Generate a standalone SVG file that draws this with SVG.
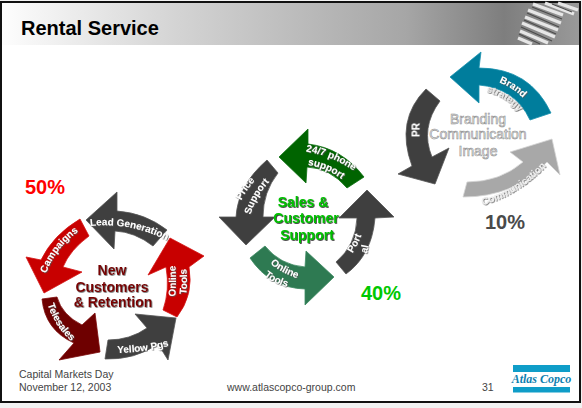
<svg xmlns="http://www.w3.org/2000/svg" width="582" height="408" viewBox="0 0 582 408">
<style>
text{font-family:"Liberation Sans",Arial,sans-serif}
.h{font-weight:bold}
.w{font-weight:bold;font-size:10px;fill:#fff;text-anchor:middle}
.c{font-weight:bold;font-size:14px;text-anchor:middle}
.b{font-size:14px;text-anchor:middle;fill:#eee;stroke:#8c8c8c;stroke-width:.55}
.f{font-size:10.5px;fill:#444}
.a path{stroke-linejoin:round;stroke-width:.8}
</style>
<defs>
<linearGradient id="hdr" x1="0" x2="1" y1="0" y2="0">
<stop offset="0" stop-color="#fdfdfd"/><stop offset=".3" stop-color="#d4d4d4"/><stop offset=".7" stop-color="#a6a6a6"/><stop offset=".87" stop-color="#7e7e7e"/><stop offset="1" stop-color="#999"/>
</linearGradient>
<filter id="sd" x="-20%" y="-20%" width="140%" height="140%"><feDropShadow dx=".7" dy=".7" stdDeviation=".2" flood-color="#555"/></filter>
<filter id="sk" x="-20%" y="-20%" width="140%" height="140%"><feDropShadow dx=".8" dy=".8" stdDeviation=".2" flood-color="#222"/></filter>
<path id="p1" d="M91,226 Q130,222 166,240"/>
<path id="p2" d="M46,274 Q55,248 79,231"/>
<path id="p3" d="M47,302 Q53,325 73,343"/>
<path id="p4" d="M114,353 Q145,353 172,345"/>
<path id="p5a" d="M175,299 Q177,282 175,263"/>
<path id="p5b" d="M186,297 Q188,282 186,266"/>
<path id="p6a" d="M302,151 Q330,154 357,173"/>
<path id="p6b" d="M305,165 Q325,166 344,181"/>
<path id="p7a" d="M240,204 Q245,190 258,178"/>
<path id="p7b" d="M250,217 Q255,197 271,180"/>
<path id="p8a" d="M268,262 Q282,274 300,279"/>
<path id="p8b" d="M262,274 Q272,283 290,288"/>
<path id="p9a" d="M352,254 Q358,245 362,234"/>
<path id="p9b" d="M366,256 Q368,250 369,243"/>
<path id="p10" d="M495,81 Q512,86 526,101"/>
<path id="p11" d="M486,92 Q505,96 519,112"/>
<path id="p12" d="M480,206 Q520,195 548,164"/>
</defs>
<rect width="582" height="408" fill="#f2f2f2"/>
<rect x="1" y="2" width="579" height="400" fill="#fff" stroke="#111" stroke-width="2"/>
<g id="header">
<rect x="2" y="3" width="577" height="42" fill="url(#hdr)"/>
<path d="M533,4 L563,15 M528,10 L561,23 M525,17 L558,30 M522,23 L555,37 M520,31 L548,43 M518,38 L532,44 M545,3 L574,14 M558,3 L578,10" stroke="#e6e6e6" stroke-width="3.4" fill="none"/>
<path d="M532,7 L562,19 M527,13 L559,27 M524,20 L556,34 M521,27 L552,41 M519,34 L540,44 M552,4 L572,12" stroke="#4c4c4c" stroke-width="1.1" fill="none"/>
<text class="h" x="21" y="34.5" font-size="20" fill="#000">Rental Service</text>
</g>
<g id="connectors">
<g id="arrow-lead" class="a"><path d="M86,220 L117,192 L117,211 Q145,213 167,230 L153,246 Q135,232 115,231 L114,249 Z" fill="#3f3f3f" stroke="#555"/><text class="w" filter="url(#sd)"><textPath href="#p1" startOffset="50%">Lead Generation</textPath></text></g>
<g id="arrow-campaigns" class="a"><path d="M80,219 L89,236 Q70,250 63,267 L82,272 L44,293 L26,257 L41,260 Q53,235 80,219 Z" fill="#c80000" stroke="#d41414"/><text class="w" filter="url(#sd)"><textPath href="#p2" startOffset="50%">Campaigns</textPath></text></g>
<g id="arrow-telesales" class="a"><path d="M42,299 L57,297 Q62,315 82,325 L95,313 L100,352 L59,360 L74,343 Q45,330 42,299Z" fill="#6e0000" stroke="#7c0a0a"/><text class="w" filter="url(#sd)"><textPath href="#p3" startOffset="50%">Telesales</textPath></text></g>
<g id="arrow-yellow" class="a"><path d="M105,359 L108,340 Q130,340 147,328 L135,314 L176,318 L168,360 L158,344 Q135,360 105,359 Z" fill="#3f3f3f" stroke="#555"/><text class="w" filter="url(#sd)"><textPath href="#p4" startOffset="50%">Yellow Pgs</textPath></text></g>
<g id="arrow-online" class="a"><path d="M163,310 L177,317 Q194,295 189,267 L204,256 L170,238 L148,275 L166,267 Q170,290 163,310 Z" fill="#c80000" stroke="#d41414"/><text class="w" filter="url(#sd)"><textPath href="#p5a" startOffset="50%">Online</textPath></text><text class="w" filter="url(#sd)"><textPath href="#p5b" startOffset="50%">Tools</textPath></text></g>
<g id="arrow-phone" class="a"><path d="M279,157 L308,129 L308,144 Q342,148 364,177 L347,188 Q330,168 307,167 L306,183 Z" fill="#006400" stroke="#0c7010"/><text class="w" filter="url(#sd)"><textPath href="#p6a" startOffset="50%">24/7 phone</textPath></text><text class="w" filter="url(#sd)"><textPath href="#p6b" startOffset="50%">support</textPath></text></g>
<g id="arrow-price" class="a"><path d="M267,160 L278,173 Q263,192 263,217 L275,217 L246,245 L219,217 L236,217 Q238,185 267,160 Z" fill="#3f3f3f" stroke="#555"/><text class="w" filter="url(#sd)"><textPath href="#p7a" startOffset="50%">Price</textPath></text><text class="w" filter="url(#sd)"><textPath href="#p7b" startOffset="50%">Support</textPath></text></g>
<g id="arrow-tools" class="a"><path d="M250,258 L265,246 Q280,265 305,267 L306,251 L334,277 L305,305 L305,289 Q270,288 250,258 Z" fill="#2e7a52" stroke="#3d8a62"/><text class="w" filter="url(#sd)"><textPath href="#p8a" startOffset="50%">Online</textPath></text><text class="w" filter="url(#sd)"><textPath href="#p8b" startOffset="50%">Tools</textPath></text></g>
<g id="arrow-portal" class="a"><path d="M336,262 L346,274 Q372,255 375,218 L394,217 L367,190 L339,218 L357,218 Q356,245 336,262 Z" fill="#3f3f3f" stroke="#555"/><text class="w" filter="url(#sd)"><textPath href="#p9a" startOffset="50%">Port</textPath></text><text class="w" filter="url(#sd)"><textPath href="#p9b" startOffset="50%">al</textPath></text></g>
<g id="arrow-brand" class="a"><path d="M450,77 L481,52 L479,68 Q530,68 551,113 L530,120 Q515,88 479,85 L479,103 Z" fill="#007d9c" stroke="#1a92ae"/><text class="w" filter="url(#sd)"><textPath href="#p10" startOffset="50%">Brand</textPath></text><text class="w" style="fill:#e6e6e6" filter="url(#sd)"><textPath href="#p11" startOffset="50%">strategy</textPath></text></g>
<g id="arrow-pr" class="a"><path d="M426,89 L440,101 Q420,128 432,157 L449,148 L435,184 L398,174 L412,166 Q395,120 426,89 Z" fill="#3f3f3f" stroke="#555"/><text class="w" filter="url(#sd)" transform="translate(419.5,130) rotate(-90)">PR</text></g>
<g id="arrow-comm" class="a"><path d="M463,197 L467,182 Q500,182 523,162 L510,152 L552,139 L560,175 L547,162 Q515,197 463,197 Z" fill="#a8a8a8" stroke="#d4d4d4"/><text class="w" style="fill:#eee" filter="url(#sd)"><textPath href="#p12" startOffset="50%">Communication</textPath></text></g>
</g>
<g id="node-new">
<g class="c" fill="#7a0000" filter="url(#sd)"><text x="112" y="275">New</text><text x="112" y="292">Customers</text><text x="113" y="307">&amp; Retention</text></g>
</g>
<g id="node-sales">
<g class="c" fill="#00c000" filter="url(#sk)"><text x="303" y="207">Sales &amp;</text><text x="306" y="223">Customer</text><text x="307" y="240">Support</text></g>
</g>
<g id="node-branding">
<g class="b"><text x="478" y="124">Branding</text><text x="478" y="139">Communication</text><text x="478" y="156">Image</text></g>
</g>
<g id="percent">
<text class="h" x="45" y="194" font-size="20" fill="#ff0000" text-anchor="middle">50%</text>
<text class="h" x="381" y="300" font-size="20" fill="#00c800" text-anchor="middle">40%</text>
<text class="h" x="505" y="229" font-size="20" fill="#4a4a4a" text-anchor="middle">10%</text>
</g>
<g id="footer">
<text class="f" x="19" y="378">Capital Markets Day</text>
<text class="f" x="19" y="391">November 12, 2003</text>
<text class="f" x="227" y="391">www.atlascopco-group.com</text>
<text class="f" x="482" y="391">31</text>
<rect x="513" y="365" width="57" height="7" fill="#0f9dc8"/>
<rect x="513" y="387" width="57" height="5.500" fill="#0f9dc8"/>
<text x="541.500" y="383" font-size="12" font-weight="bold" font-style="italic" fill="#0f7fb0" text-anchor="middle" style="font-family:'Liberation Serif',serif">Atlas Copco</text>
</g>
</svg>
